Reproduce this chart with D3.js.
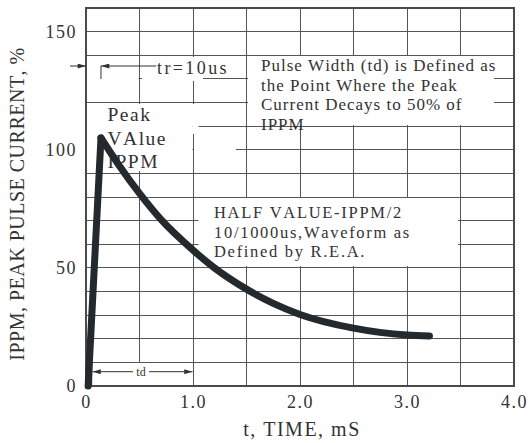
<!DOCTYPE html>
<html>
<head>
<meta charset="utf-8">
<script src="https://cdn.jsdelivr.net/npm/d3@7"></script>
<style>
  body { margin: 0; background: #fff; }
  svg text { font-family: "Liberation Serif", "Times New Roman", serif; fill: #333; font-kerning: none; }
</style>
</head>
<body>
<svg id="chart" width="528" height="443"></svg>
<script>
// pulse waveform (t in ms, current in % of IPPM)
const timeMs     = [0.02, 0.14, 0.30, 0.50, 0.70, 1.00, 1.20, 1.50, 1.75, 2.00, 2.50, 3.00, 3.21];
const currentPct = [0,    105,  94.0, 81.5, 70.5, 57.5, 50.0, 41.0, 35.0, 30.3, 24.5, 21.6, 21.2];

const xTicks = [0, 1, 2, 3, 4];
const xTickLabels = ["0", "1.0", "2.0", "3.0", "4.0"];
const yTicks = [0, 50, 100, 150];

const noteLines = ["Pulse Width (td) is Defined as", "the Point Where the Peak",
                   "Current Decays to 50% of", "IPPM"];
const halfLines = ["HALF VALUE-IPPM/2", "10/1000us,Waveform as", "Defined by R.E.A."];
const peakLines = ["Peak", "VAlue", "IPPM"];

const svg = d3.select("#chart");
const margin = {top: 8, right: 14, bottom: 57, left: 86};
const W = 528, H = 443;

const x = d3.scaleLinear().domain([0, 4]).range([margin.left, W - margin.right]);
const y = d3.scaleLinear().domain([0, 160]).range([H - margin.bottom, margin.top]);

const grid = svg.append("g")
  .attr("stroke", "#555")
  .attr("stroke-width", 1)
  .attr("shape-rendering", "crispEdges");

grid.selectAll(".vgrid")
  .data(d3.range(0.5, 4, 0.5))
  .enter().append("line")
  .attr("x1", d => x(d)).attr("x2", d => x(d))
  .attr("y1", y(0)).attr("y2", y(160));

grid.selectAll(".hgrid")
  .data(d3.range(10, 160, 10))
  .enter().append("line")
  .attr("x1", x(0)).attr("x2", x(4))
  .attr("y1", d => y(d)).attr("y2", d => y(d));

// white patches behind the notes (the grid is broken there)
const patches = [
  [142, 57, 203, 81],    // tr=10us
  [87, 72, 138.6, 86],
  [248, 56, 494, 125],   // pulse width note
  [87, 104, 192.5, 171], // peak value
  [192.5, 104, 198.5, 134],
  [194, 140, 236, 158],
  [198.5, 198, 458, 266], // half value note
  [91.5, 363, 192.5, 385] // td
];
svg.append("g").selectAll("rect")
  .data(patches)
  .enter().append("rect")
  .attr("x", d => d[0]).attr("y", d => d[1])
  .attr("width", d => d[2] - d[0]).attr("height", d => d[3] - d[1])
  .attr("fill", "#fff");

// frame
svg.append("rect")
  .attr("x", x(0)).attr("y", y(160))
  .attr("width", x(4) - x(0)).attr("height", y(0) - y(160))
  .attr("fill", "none")
  .attr("stroke", "#4a4a4a")
  .attr("stroke-width", 1.2)
  .attr("shape-rendering", "crispEdges");

// axes labels
const xAxis = svg.append("g")
  .attr("transform", `translate(0,${y(0)})`)
  .call(d3.axisBottom(x).tickValues(xTicks).tickSize(0).tickPadding(9)
    .tickFormat((d, i) => xTickLabels[i]));
xAxis.select(".domain").remove();
xAxis.selectAll("text")
  .attr("font-size", 18)
  .attr("letter-spacing", 1.5)
  .attr("font-family", "Liberation Serif")
  .attr("fill", "#333");

const yAxis = svg.append("g")
  .attr("transform", `translate(${x(0)},0)`)
  .call(d3.axisLeft(y).tickValues(yTicks).tickSize(0).tickPadding(9));
yAxis.select(".domain").remove();
yAxis.selectAll("text")
  .attr("font-size", 18)
  .attr("letter-spacing", 1.5)
  .attr("font-family", "Liberation Serif")
  .attr("fill", "#333");

svg.append("text")
  .attr("x", 302).attr("y", 436)
  .attr("text-anchor", "middle")
  .attr("font-size", 20)
  .attr("letter-spacing", 1.5)
  .text("t, TIME, mS");

svg.append("text")
  .attr("transform", "translate(24,204) rotate(-90)")
  .attr("text-anchor", "middle")
  .attr("font-size", 20)
  .attr("letter-spacing", 0.5)
  .text("IPPM, PEAK PULSE CURRENT, %");

// arrowheads
const defs = svg.append("defs");
defs.append("marker")
  .attr("id", "arrow")
  .attr("viewBox", "0 0 10 6")
  .attr("refX", 10).attr("refY", 3)
  .attr("markerWidth", 9).attr("markerHeight", 5)
  .attr("markerUnits", "userSpaceOnUse")
  .attr("orient", "auto-start-reverse")
  .append("path")
  .attr("d", "M0,0 L10,3 L0,6 Z")
  .attr("fill", "#333");

const ann = svg.append("g").attr("stroke", "#333").attr("stroke-width", 1).attr("fill", "none");

// tr = 10us marker
const peakX = x(timeMs[1]);
ann.append("line").attr("x1", 70).attr("x2", x(0)).attr("y1", 66).attr("y2", 66)
  .attr("marker-end", "url(#arrow)");
ann.append("line").attr("x1", 156).attr("x2", peakX).attr("y1", 66).attr("y2", 66)
  .attr("marker-end", "url(#arrow)");
ann.append("line").attr("x1", peakX).attr("x2", peakX).attr("y1", 66).attr("y2", 79);
svg.append("text").attr("x", 157).attr("y", 73.5)
  .attr("font-size", 18).attr("letter-spacing", 2.4).text("tr=10us");

// td marker
ann.append("line").attr("x1", 91.7).attr("x2", 91.7).attr("y1", y(10)).attr("y2", y(0));
ann.append("line").attr("x1", 92.5).attr("x2", x(1) - 0.5).attr("y1", 371.7).attr("y2", 371.7)
  .attr("marker-start", "url(#arrow)").attr("marker-end", "url(#arrow)");
svg.append("rect").attr("x", 133).attr("y", 365).attr("width", 16).attr("height", 12).attr("fill", "#fff");
svg.append("text").attr("x", 141).attr("y", 375.5).attr("text-anchor", "middle")
  .attr("font-size", 12).text("td");

// notes
function block(lines, x0, y0, lh, size, ls) {
  svg.append("g").selectAll("text")
    .data(lines)
    .enter().append("text")
    .attr("x", x0)
    .attr("y", (d, i) => y0 + i * lh)
    .attr("font-size", size)
    .attr("letter-spacing", ls)
    .text(d => d);
}
block(noteLines, 261, 70.7, 19.8, 17, 1.0);
block(halfLines, 214, 217.7, 19.8, 16.5, 1.7);
block(peakLines, 107.5, 121, 23.6, 19.5, 1.5);

// the waveform: linear rise, smooth decay
const line = d3.line().x(d => x(d[0])).y(d => y(d[1]));
const pts = timeMs.map((t, i) => [t, currentPct[i]]);
const wave = svg.append("g")
  .attr("fill", "none")
  .attr("stroke", "#23292d")
  .attr("stroke-width", 7)
  .attr("stroke-linecap", "round")
  .attr("stroke-linejoin", "round");
wave.append("path").attr("d", line.curve(d3.curveLinear)(pts.slice(0, 2)));
wave.append("path").attr("d", line.curve(d3.curveMonotoneX)(pts.slice(1)));
</script>
</body>
</html>
